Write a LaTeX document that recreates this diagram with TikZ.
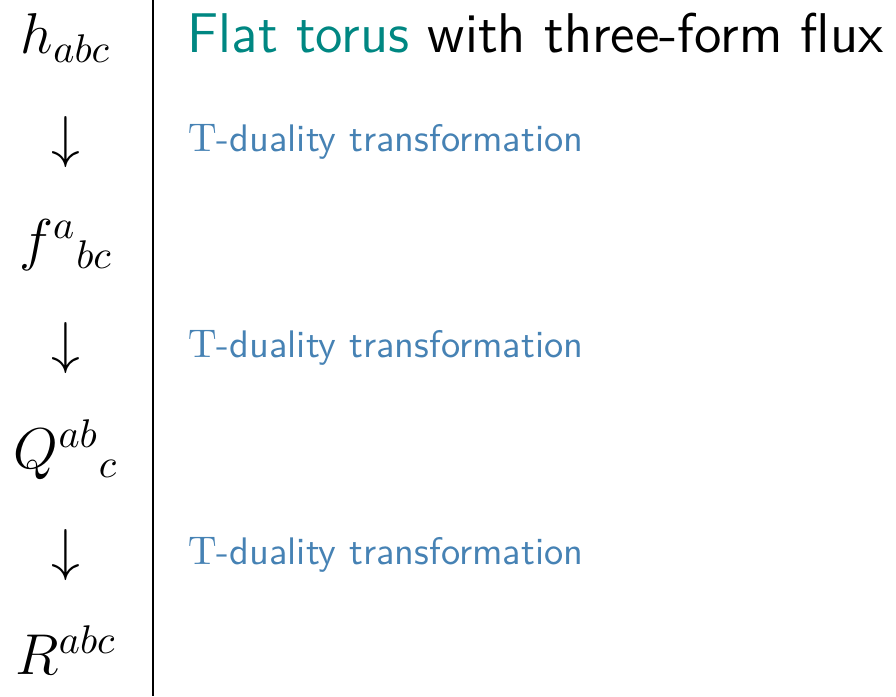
\documentclass[tikz,border=0pt]{standalone}
\usepackage{xcolor}
\definecolor{titleteal}{RGB}{0,135,130}
\definecolor{dualblue}{RGB}{70,130,180}
\begin{document}
\begin{tikzpicture}[x=0.25pt,y=-0.25pt,
  mathlbl/.style={inner sep=0pt,font=\fontsize{14.4}{17}\selectfont},
  arrowglyph/.style={inner sep=0pt,font=\fontsize{14.4}{17}\selectfont},
  duallbl/.style={inner sep=0pt,anchor=west,text=dualblue,font=\sffamily\fontsize{9.6}{12}\selectfont},
  titlelbl/.style={inner sep=0pt,anchor=base west,font=\sffamily\fontsize{14}{17}\selectfont}]
\useasboundingbox (0,0) rectangle (896,696);
\node[mathlbl] (h) at (66,38) {$h_{abc}$};
\node[arrowglyph] (a1) at (66,142) {$\downarrow$};
\node[mathlbl] (f) at (66,245) {$f^{a}{}_{bc}$};
\node[arrowglyph] (a2) at (66,348) {$\downarrow$};
\node[mathlbl] (Q) at (66,450) {$Q^{ab}{}_{c}$};
\node[arrowglyph] (a3) at (66,555) {$\downarrow$};
\node[mathlbl] (R) at (66,650) {$R^{abc}$};
\coordinate (top) at (153,0);
\coordinate (bot) at (153,696);
\draw[line width=0.55pt] (top) -- (bot);
\node[titlelbl] (title) at (187,52) {\textcolor{titleteal}{Flat torus} with three-form flux};
\node[duallbl] (d1) at (187,142) {$\mathrm{T}$-duality transformation};
\node[duallbl] (d2) at (187,348) {$\mathrm{T}$-duality transformation};
\node[duallbl] (d3) at (187,555) {$\mathrm{T}$-duality transformation};
\end{tikzpicture}
\end{document}
